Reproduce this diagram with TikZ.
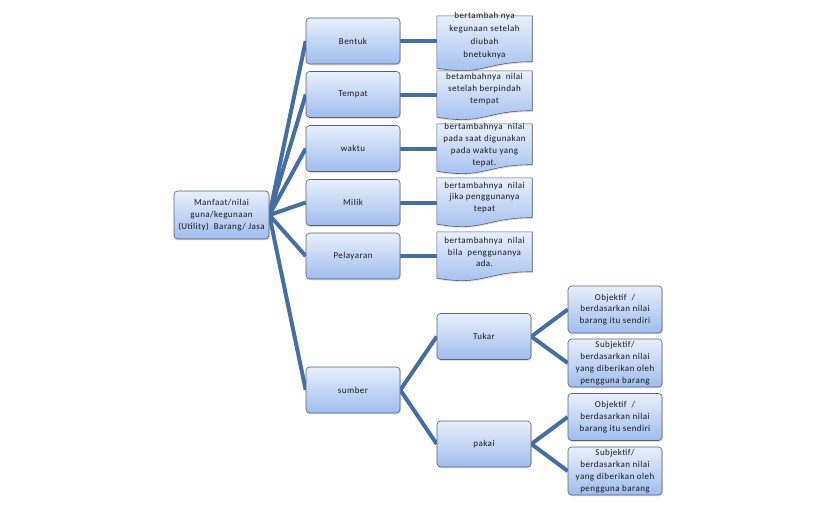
\documentclass[tikz,border=0pt]{standalone}
\usepackage{fontspec}
\setmainfont{Carlito}
\newfontfamily\lsfont[LetterSpace=5]{Carlito}
\usetikzlibrary{shadows}
\definecolor{linec}{RGB}{70,110,166}
\definecolor{boxtop}{RGB}{232,239,252}
\definecolor{boxbot}{RGB}{160,189,238}
\definecolor{boxline}{RGB}{88,96,112}
\definecolor{txtc}{RGB}{25,25,25}
\pgfdeclarelayer{bg}
\pgfsetlayers{bg,main}
\tikzset{
  txt/.style={font=\lsfont\fontsize{9}{11.8}\selectfont, text=txtc},
  box/.style={rectangle, rounded corners=3.5pt, draw=boxline, line width=0.6pt,
    top color=boxtop, bottom color=boxbot, minimum width=94pt, minimum height=46pt,
    inner sep=1pt, align=center, txt,
    drop shadow={opacity=0.25, shadow xshift=0.8pt, shadow yshift=-1.3pt}},
  conn/.style={draw=linec, line width=4pt},
  noteframe/.style={rectangle, minimum width=95pt, inner sep=0pt, draw=none},
  noteshape/.style={draw=boxline, line width=0.6pt, top color=boxtop, bottom color=boxbot,
    drop shadow={opacity=0.25, shadow xshift=0.8pt, shadow yshift=-1.3pt}},
  notetxt/.style={align=center, inner sep=0pt, txt}
}
\newcommand\wavenote[1]{%
  \path[noteshape] (#1.north west) -- (#1.north east) -- ([yshift=6.5pt]#1.south east)
    .. controls ([xshift=-47.5pt,yshift=6.5pt]#1.south east) and ([xshift=47.5pt,yshift=-8pt]#1.south west)
    .. (#1.south west) -- cycle;}
\begin{document}
\begin{tikzpicture}[x=1pt,y=-1pt]
\useasboundingbox (0,0) rectangle (840,507);
% main boxes
\node[box, minimum width=95pt, minimum height=48pt] (root) at (221.5,215)
  {Manfaat/nilai\\guna/kegunaan\\(Utility)\ \ Barang/ Jasa};
\node[box] (bentuk) at (353,41) {Bentuk};
\node[box] (tempat) at (353,94.5) {Tempat};
\node[box] (waktu) at (353,148.5) {waktu};
\node[box] (milik) at (353,202.5) {Milik};
\node[box] (pelayaran) at (353,256) {Pelayaran};
\node[box] (sumber) at (353,390) {sumber};
\node[box] (tukar) at (484,336.5) {Tukar};
\node[box] (pakai) at (484,444) {pakai};
\node[box, minimum height=47pt] (obj1) at (615,309.5) {Objektif\ \ /\\berdasarkan nilai\\barang itu sendiri};
\node[box, minimum height=48pt] (subj1) at (615,363) {Subjektif/\\berdasarkan nilai\\yang diberikan oleh\\pengguna barang};
\node[box, minimum height=47pt] (obj2) at (615,417) {Objektif\ \ /\\berdasarkan nilai\\barang itu sendiri};
\node[box, minimum height=48pt] (subj2) at (615,471) {Subjektif/\\berdasarkan nilai\\yang diberikan oleh\\pengguna barang};
% notes
\node[noteframe, minimum height=52pt] (n1) at (484.5,42) {};
\node[noteframe, minimum height=46pt] (n2) at (484.5,94) {};
\node[noteframe, minimum height=47pt] (n3) at (484.5,147.5) {};
\node[noteframe, minimum height=46pt] (n4) at (484.5,201) {};
\node[noteframe, minimum height=46pt] (n5) at (484.5,255) {};
\wavenote{n1}
\wavenote{n2}
\wavenote{n3}
\wavenote{n4}
\wavenote{n5}
\node[notetxt, font=\lsfont\fontsize{9}{13}\selectfont] (t1) at (484.5,36) {bertambah nya\\kegunaan setelah\\diubah\\bnetuknya};
\node[notetxt] (t2) at (484.5,89) {betambahnya\ \ nilai\\setelah berpindah\\tempat};
\node[notetxt] (t3) at (484.5,145) {bertambahnya\ \ nilai\\pada saat digunakan\\pada waktu yang\\tepat.};
\node[notetxt] (t4) at (484.5,197.5) {bertambahnya\ \ nilai\\jika penggunanya\\tepat};
\node[notetxt] (t5) at (484.5,252) {bertambahnya\ \ nilai\\bila\ \ penggunanya\\ada.};
% connectors
\begin{pgfonlayer}{bg}
\begin{scope}[conn]
\draw (root.east) -- (bentuk.west);
\draw (root.east) -- (tempat.west);
\draw (root.east) -- (waktu.west);
\draw (root.east) -- (milik.west);
\draw (root.east) -- (pelayaran.west);
\draw (root.east) -- (sumber.west);
\draw (bentuk.east) -- (bentuk.east -| n1.west);
\draw (tempat.east) -- (tempat.east -| n2.west);
\draw (waktu.east) -- (waktu.east -| n3.west);
\draw (milik.east) -- (milik.east -| n4.west);
\draw (pelayaran.east) -- (pelayaran.east -| n5.west);
\draw (sumber.east) -- (tukar.west);
\draw (sumber.east) -- (pakai.west);
\draw (tukar.east) -- (obj1.west);
\draw (tukar.east) -- (subj1.west);
\draw (pakai.east) -- (obj2.west);
\draw (pakai.east) -- (subj2.west);
\end{scope}
\end{pgfonlayer}
\end{tikzpicture}
\end{document}
